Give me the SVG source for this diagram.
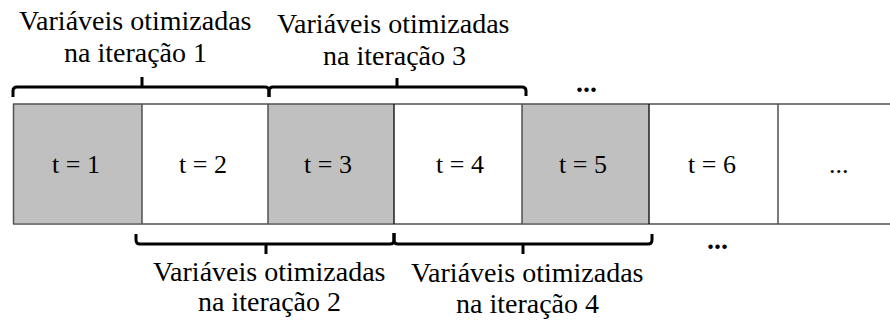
<svg xmlns="http://www.w3.org/2000/svg" width="890" height="320" viewBox="0 0 890 320">
<rect width="890" height="320" fill="#fff"/>
<g id="cell1"><rect fill="#c0c0c0" x="13" y="104" width="129" height="119"/><text font-family="Liberation Serif" font-size="26" x="52" y="173">t = 1</text></g>
<g id="cell2"><rect fill="#fff" x="142" y="104" width="126" height="119"/><text font-family="Liberation Serif" font-size="26" x="179" y="173">t = 2</text></g>
<g id="cell3"><rect fill="#c0c0c0" x="268" y="104" width="126" height="119"/><text font-family="Liberation Serif" font-size="26" x="304" y="173">t = 3</text></g>
<g id="cell4"><rect fill="#fff" x="394" y="104" width="128" height="119"/><text font-family="Liberation Serif" font-size="26" x="436" y="173">t = 4</text></g>
<g id="cell5"><rect fill="#c0c0c0" x="522" y="104" width="127" height="119"/><text font-family="Liberation Serif" font-size="26" x="559" y="173">t = 5</text></g>
<g id="cell6"><rect fill="#fff" x="649" y="104" width="129" height="119"/><text font-family="Liberation Serif" font-size="26" x="688" y="173">t = 6</text></g>
<g id="cell7"><rect fill="#fff" x="778" y="104" width="112" height="119"/><text font-family="Liberation Serif" font-size="26" x="829" y="173">...</text></g>
<g id="grid" stroke="#505050" stroke-width="1.5">
<line x1="13" y1="104" x2="890" y2="104"/>
<line x1="13" y1="224" x2="890" y2="224"/>
<line x1="13.5" y1="104" x2="13.5" y2="224"/>
<line x1="142" y1="104" x2="142" y2="224"/>
<line x1="268" y1="104" x2="268" y2="224"/>
<line x1="394" y1="104" x2="394" y2="224" stroke="#202020"/>
<line x1="522" y1="104" x2="522" y2="224"/>
<line x1="649" y1="104" x2="649" y2="224" stroke="#202020"/>
<line x1="778" y1="104" x2="778" y2="224"/>
</g>
<g id="connectors" fill="none" stroke="#000" stroke-width="3" stroke-linejoin="round">
<path d="M13,97 L13,91 Q13,87 17,87 L265,87 Q269,87 269,91 L269,97 M142,87 L142,77"/>
<path d="M269,97 L269,91 Q269,87 273,87 L522,87 Q526,87 526,91 L526,96 M397,87 L397,78"/>
<path d="M136,234 L136,240 Q136,244 140,244 L390,244 Q394,244 394,240 L394,233 M266,244 L266,254"/>
<path d="M394,233 L394,240 Q394,244 398,244 L648,244 Q652,244 652,240 L652,234 M523,244 L523,254"/>
</g>
<g id="label1"><text font-family="Liberation Serif" font-size="28" x="19" y="30">Variáveis otimizadas</text><text font-family="Liberation Serif" font-size="28" x="64" y="62">na iteração 1</text></g>
<g id="label3"><text font-family="Liberation Serif" font-size="28" x="277" y="33">Variáveis otimizadas</text><text font-family="Liberation Serif" font-size="28" x="323" y="65">na iteração 3</text></g>
<g id="label2"><text font-family="Liberation Serif" font-size="28" x="153" y="281">Variáveis otimizadas</text><text font-family="Liberation Serif" font-size="28" x="198" y="311">na iteração 2</text></g>
<g id="label4"><text font-family="Liberation Serif" font-size="28" x="411" y="282">Variáveis otimizadas</text><text font-family="Liberation Serif" font-size="28" x="456" y="313">na iteração 4</text></g>
<g id="ellipsis-top"><text font-family="Liberation Serif" font-size="28" font-weight="bold" x="576" y="92">...</text></g>
<g id="ellipsis-bottom"><text font-family="Liberation Serif" font-size="28" font-weight="bold" x="707" y="249">...</text></g>
</svg>
